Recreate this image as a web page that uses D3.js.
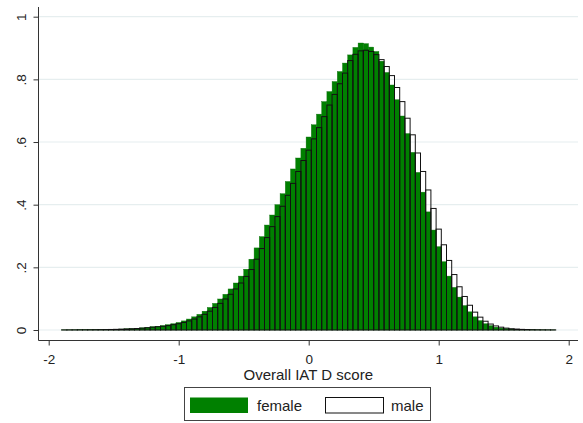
<!DOCTYPE html>
<html>
<head>
<meta charset="utf-8">
<script src="https://cdn.jsdelivr.net/npm/d3@7/dist/d3.min.js"></script>
<style>
  html, body { margin: 0; padding: 0; background: #ffffff; }
  svg { display: block; font-family: "Liberation Sans", Arial, sans-serif; }
</style>
</head>
<body>
<svg id="chart" width="583" height="423"></svg>
<script>
// Histogram bins: lower edge of the first bin and common width
const binStart = -1.9;
const binWidth = 0.04;

// Density per bin, female respondents
const female = [
  0.0004, 0.0005, 0.0006, 0.0007, 0.0008, 0.0010, 0.0012, 0.0014, 0.0017, 0.0020,
  0.0025, 0.0030, 0.0037, 0.0045, 0.0055, 0.0068, 0.0085,
  0.0105, 0.012, 0.014, 0.017, 0.020, 0.024, 0.029, 0.035, 0.042, 0.050, 0.060,
  0.072, 0.085, 0.099, 0.114, 0.131, 0.150, 0.172, 0.194, 0.226, 0.262, 0.298,
  0.335, 0.367, 0.400, 0.435, 0.474, 0.514, 0.549, 0.580, 0.616, 0.655, 0.689,
  0.729, 0.761, 0.793, 0.825, 0.852, 0.878, 0.902, 0.916, 0.914, 0.903, 0.889,
  0.858, 0.822, 0.782, 0.735, 0.683, 0.627, 0.567, 0.503, 0.440, 0.377, 0.319,
  0.266, 0.218, 0.172, 0.136, 0.105, 0.078, 0.058, 0.042, 0.030, 0.020, 0.014,
  0.009, 0.006, 0.004, 0.003, 0.002, 0.0015, 0.0010, 0.0008, 0.0006, 0.0005, 0.0004, 0.0003
];

// Density per bin, male respondents
const male = [
  0.0003, 0.0004, 0.0005, 0.0006, 0.0007, 0.0008, 0.0010, 0.0012, 0.0014, 0.0017,
  0.0021, 0.0026, 0.0032, 0.0039, 0.0048, 0.0059, 0.0073,
  0.0090, 0.0105, 0.012, 0.014, 0.017, 0.020, 0.024, 0.029, 0.035, 0.042, 0.050,
  0.060, 0.072, 0.085, 0.099, 0.114, 0.131, 0.150, 0.171, 0.193, 0.226, 0.260,
  0.295, 0.330, 0.362, 0.395, 0.430, 0.468, 0.506, 0.541, 0.574, 0.610, 0.646,
  0.681, 0.718, 0.752, 0.786, 0.820, 0.860, 0.880, 0.891, 0.893, 0.889, 0.879,
  0.863, 0.841, 0.812, 0.774, 0.729, 0.676, 0.623, 0.565, 0.506, 0.447, 0.388,
  0.322, 0.272, 0.222, 0.177, 0.138, 0.107, 0.079, 0.057, 0.041, 0.028, 0.019,
  0.013, 0.009, 0.006, 0.004, 0.003, 0.002, 0.0015, 0.0010, 0.0008, 0.0006, 0.0005, 0.0004
];

// Axis ticks and labels
const xTicks = [-2, -1, 0, 1, 2];
const xTickLabels = ["-2", "-1", "0", "1", "2"];
const yTicks = [0, 0.2, 0.4, 0.6, 0.8, 1];
const yTickLabels = ["0", ".2", ".4", ".6", ".8", "1"];
const xTitle = "Overall IAT D score";
const legendLabels = ["female", "male"];

const svg = d3.select("#chart");

const x = d3.scaleLinear().domain([-2, 2]).range([48.7, 568.7]);
const y = d3.scaleLinear().domain([0, 1]).range([330, 16.7]);

const plotLeft = 38.5, plotRight = 578, plotTop = 7, plotBottom = 340.5;

// Grid lines
svg.append("g")
  .selectAll("line")
  .data(yTicks)
  .join("line")
  .attr("x1", plotLeft)
  .attr("x2", plotRight)
  .attr("y1", d => y(d))
  .attr("y2", d => y(d))
  .attr("stroke", "#e6eeef")
  .attr("stroke-width", 1.2);

const bins = d3.range(female.length).map(i => ({
  x0: binStart + i * binWidth,
  x1: binStart + (i + 1) * binWidth,
  f: female[i],
  m: male[i]
}));

// Female bars (filled)
svg.append("g")
  .selectAll("rect")
  .data(bins)
  .join("rect")
  .attr("x", d => x(d.x0))
  .attr("width", d => x(d.x1) - x(d.x0))
  .attr("y", d => y(d.f))
  .attr("height", d => y(0) - y(d.f))
  .attr("fill", "#008000")
  .attr("stroke", "#0a6e0a")
  .attr("stroke-width", 0.4);

// Male bars (outline only)
svg.append("g")
  .selectAll("rect")
  .data(bins)
  .join("rect")
  .attr("x", d => x(d.x0))
  .attr("width", d => x(d.x1) - x(d.x0))
  .attr("y", d => y(d.m))
  .attr("height", d => y(0) - y(d.m))
  .attr("fill", "none")
  .attr("stroke", "#111111")
  .attr("stroke-width", 1);

// Y axis
const yAxis = d3.axisLeft(y)
  .tickValues(yTicks)
  .tickFormat((d, i) => yTickLabels[i])
  .tickSize(5)
  .tickSizeOuter(0);

const gy = svg.append("g").attr("transform", `translate(${plotLeft},0)`).call(yAxis);
gy.select(".domain").remove();
gy.selectAll(".tick line").attr("stroke", "#333");
gy.selectAll(".tick text")
  .attr("x", null).attr("dy", null)
  .attr("transform", "translate(-13,0) rotate(-90)")
  .attr("text-anchor", "middle")
  .attr("fill", "#222")
  .style("font-size", "13.5px")
  .style("font-family", "'Liberation Sans', Arial, sans-serif");

svg.append("line")
  .attr("x1", plotLeft).attr("x2", plotLeft)
  .attr("y1", plotTop).attr("y2", plotBottom)
  .attr("stroke", "#333").attr("stroke-width", 1);

// X axis
const xAxis = d3.axisBottom(x)
  .tickValues(xTicks)
  .tickFormat((d, i) => xTickLabels[i])
  .tickSize(5)
  .tickSizeOuter(0);

const gx = svg.append("g").attr("transform", `translate(0,${plotBottom})`).call(xAxis);
gx.select(".domain").remove();
gx.selectAll(".tick line").attr("stroke", "#333");
gx.selectAll(".tick text")
  .attr("y", 23).attr("dy", null)
  .attr("fill", "#222")
  .style("font-size", "13.5px")
  .style("font-family", "'Liberation Sans', Arial, sans-serif");

svg.append("line")
  .attr("x1", plotLeft).attr("x2", plotRight)
  .attr("y1", plotBottom).attr("y2", plotBottom)
  .attr("stroke", "#333").attr("stroke-width", 1);

// Axis title
svg.append("text")
  .attr("x", (plotLeft + plotRight) / 2)
  .attr("y", 380)
  .attr("text-anchor", "middle")
  .attr("fill", "#222")
  .style("font-size", "15px")
  .text(xTitle);

// Legend
const legend = svg.append("g");
legend.append("rect")
  .attr("x", 184.5).attr("y", 387.5)
  .attr("width", 246).attr("height", 33)
  .attr("fill", "#ffffff")
  .attr("stroke", "#444").attr("stroke-width", 1);

legend.append("rect")
  .attr("x", 190).attr("y", 397.5)
  .attr("width", 58).attr("height", 15.5)
  .attr("fill", "#008000");
legend.append("text")
  .attr("x", 257).attr("y", 410.5)
  .attr("fill", "#222")
  .style("font-size", "15px")
  .text(legendLabels[0]);

legend.append("rect")
  .attr("x", 325.5).attr("y", 397.5)
  .attr("width", 58).attr("height", 15.5)
  .attr("fill", "#ffffff")
  .attr("stroke", "#111").attr("stroke-width", 1);
legend.append("text")
  .attr("x", 391).attr("y", 410.5)
  .attr("fill", "#222")
  .style("font-size", "15px")
  .text(legendLabels[1]);
</script>
</body>
</html>
